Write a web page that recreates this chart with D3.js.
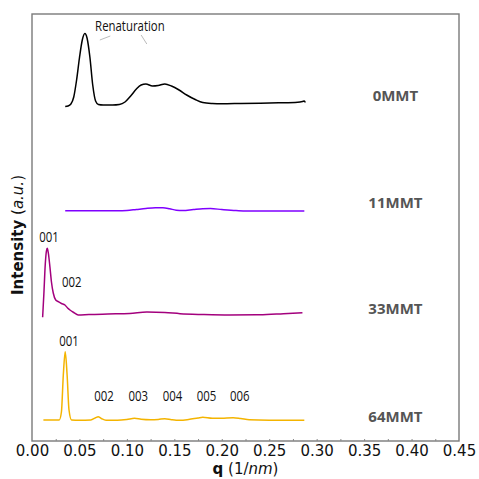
<!DOCTYPE html>
<html>
<head>
<meta charset="utf-8">
<script src="https://cdn.jsdelivr.net/npm/d3@7"></script>
<style>
  body { margin: 0; background: #fff; }
  .peak { font-family: "Open Sans", sans-serif; font-size: 15px; fill: #111; }
  .tick text { font-family: "DejaVu Sans", sans-serif; font-size: 15px; fill: #111; }
</style>
</head>
<body>
<div id="chart"></div>
<script>
var svgWidth = 479;
var svgHeight = 479;

var margin = { top: 14, right: 20, bottom: 38, left: 32 };
var width = 459 - margin.left;
var height = 441 - margin.top;

// series names, colours and vertical offsets (a.u.)
var seriesNames = ["0MMT", "11MMT", "33MMT", "64MMT"];
var seriesColors = ["#000000", "#7f00ff", "#a3007d", "#f4b400"];
var seriesOffsets = [338, 230, 127, 21];
var nameLevels = [345, 238, 132, 24];

// q values (1/nm) and intensities for each sample
var q0 = [0.035, 0.038, 0.041, 0.044, 0.047, 0.050, 0.053, 0.0557, 0.058, 0.061, 0.064, 0.067, 0.070, 0.075, 0.085, 0.092, 0.098, 0.104, 0.110, 0.115, 0.120, 0.127, 0.133, 0.140, 0.147, 0.155, 0.163, 0.172, 0.180, 0.190, 0.200, 0.220, 0.240, 0.260, 0.280, 0.285, 0.287, 0.288];
var i0 = [-3.5, -3, -1, 6, 23, 45, 63, 69.5, 65, 46, 18, 2, -1.5, -2, -2, -1.5, 1, 7, 14, 18, 19, 17, 17.5, 19, 17, 13, 8, 3.5, 0.5, -0.5, -0.8, -0.5, -0.2, 0.2, 0.8, 1.5, 2, 0.5];

var q11 = [0.035, 0.05, 0.07, 0.09, 0.100, 0.110, 0.120, 0.130, 0.138, 0.145, 0.152, 0.159, 0.170, 0.180, 0.188, 0.200, 0.215, 0.226, 0.250, 0.287];
var i11 = [0.3, 0.2, 0.3, 0.2, 0.5, 1.5, 2.5, 3.2, 3.3, 2.3, 0.8, 0.5, 1.5, 2.3, 2.4, 1.5, 0.5, 0, 0, 0];

var q33 = [0.0112, 0.0125, 0.0140, 0.0152, 0.0161, 0.0172, 0.0189, 0.0205, 0.0224, 0.0250, 0.0277, 0.0310, 0.0347, 0.0375, 0.0400, 0.0440, 0.0487, 0.060, 0.080, 0.103, 0.121, 0.140, 0.156, 0.180, 0.208, 0.240, 0.265, 0.285];
var i33 = [-3.3, 20, 50, 63, 65.7, 61, 47, 32, 21, 14, 12.3, 10.5, 9, 6, 4, 1.5, -1, -0.5, 0, 0.5, 2, 1.5, 0.3, -0.5, -1, -0.8, 0.3, 1.3];

var q64 = [0.012, 0.020, 0.0287, 0.031, 0.033, 0.035, 0.037, 0.039, 0.0417, 0.050, 0.062, 0.067, 0.0697, 0.073, 0.078, 0.090, 0.100, 0.108, 0.115, 0.125, 0.133, 0.140, 0.147, 0.152, 0.156, 0.165, 0.175, 0.180, 0.190, 0.200, 0.212, 0.220, 0.229, 0.250, 0.287];
var i64 = [0, 0, 0, 8, 45, 68.3, 45, 10, 0, -0.3, 0, 2.3, 3.3, 1.5, -0.3, -0.3, 0.5, 1.7, 0.8, 0.3, 0.6, 1.3, 0.3, -0.2, -0.3, 0.5, 2, 2.7, 1.7, 1.8, 2.3, 1.5, 0.3, -0.2, -0.3];

var seriesQ = [q0, q11, q33, q64];
var seriesI = [i0, i11, i33, i64];

// peak annotations: q, intensity (above the series' baseline), label
var peak33Q = [0.0180, 0.0420];
var peak33I = [72, 27];
var peak33Text = ["001", "002"];
var peak64Q = [0.039, 0.076, 0.112, 0.148, 0.184, 0.219];
var peak64I = [74, 19, 19, 19, 19, 19];
var peak64Text = ["001", "002", "003", "004", "005", "006"];

var xTicks = [0, 0.05, 0.1, 0.15, 0.2, 0.25, 0.3, 0.35, 0.4, 0.45];

var svg = d3.select("#chart")
  .append("svg")
  .attr("width", svgWidth)
  .attr("height", svgHeight);

var chartGroup = svg.append("g")
  .attr("transform", `translate(${margin.left}, ${margin.top})`);

var xScale = d3.scaleLinear().domain([0, 0.45]).range([0, width]);
var yScale = d3.scaleLinear().domain([0, 427]).range([height, 0]);

// frame
chartGroup.append("rect")
  .attr("x", 0).attr("y", 0)
  .attr("width", width).attr("height", height)
  .attr("fill", "none")
  .attr("stroke", "#7a7a7a")
  .attr("stroke-width", 1.4);

// x axis: labels every 0.05, small inward ticks every 0.025
var xAxis = chartGroup.append("g")
  .attr("transform", `translate(0, ${height})`)
  .call(d3.axisBottom(xScale).tickValues(xTicks).tickFormat(d3.format(".2f")).tickSize(0).tickPadding(4));
xAxis.select(".domain").remove();

chartGroup.append("g")
  .attr("transform", `translate(0, ${height})`)
  .call(d3.axisTop(xScale).tickValues(d3.range(0.025, 0.45, 0.025)).tickSize(2).tickFormat(""))
  .call(g => g.select(".domain").remove())
  .selectAll("line").attr("stroke", "#888");

// lines
var line = d3.line()
  .x(d => xScale(d[0]))
  .y(d => yScale(d[1]))
  .curve(d3.curveMonotoneX);

seriesNames.forEach(function(name, k) {
  var pts = seriesQ[k].map((q, j) => [q, seriesI[k][j] + seriesOffsets[k]]);
  chartGroup.append("path")
    .attr("d", line(pts))
    .attr("fill", "none")
    .attr("stroke", seriesColors[k])
    .attr("stroke-width", 1.5)
    .attr("stroke-linejoin", "round");

  chartGroup.append("text")
    .attr("x", xScale(0.383))
    .attr("y", yScale(nameLevels[k]) + 5)
    .attr("text-anchor", "middle")
    .attr("font-family", "'Open Sans', sans-serif")
    .attr("font-weight", "bold")
    .attr("font-size", "15px")
    .attr("fill", "#555")
    .text(name);
});

// narrow annotation text: Open Sans squeezed horizontally
function narrowText(x, y, anchor, txt) {
  chartGroup.append("text")
    .attr("class", "peak")
    .attr("transform", `translate(${x}, ${y}) scale(0.76, 1)`)
    .attr("text-anchor", anchor)
    .text(txt);
}

function addPeaks(qs, is, texts, offset) {
  qs.forEach(function(q, j) {
    narrowText(xScale(q), yScale(is[j] + offset), "middle", texts[j]);
  });
}
addPeaks(peak33Q, peak33I, peak33Text, seriesOffsets[2]);
addPeaks(peak64Q, peak64I, peak64Text, seriesOffsets[3]);

// Renaturation annotation
narrowText(xScale(0.0665), yScale(seriesOffsets[0] + 72), "start", "Renaturation");

chartGroup.append("line")
  .attr("x1", xScale(0.0715)).attr("y1", yScale(seriesOffsets[0] + 63))
  .attr("x2", xScale(0.0825)).attr("y2", yScale(seriesOffsets[0] + 67))
  .attr("stroke", "#bbb").attr("stroke-width", 1);
chartGroup.append("line")
  .attr("x1", xScale(0.115)).attr("y1", yScale(seriesOffsets[0] + 68))
  .attr("x2", xScale(0.121)).attr("y2", yScale(seriesOffsets[0] + 59))
  .attr("stroke", "#bbb").attr("stroke-width", 1);

// x label
var xLabel = svg.append("text")
  .attr("x", margin.left + width / 2)
  .attr("y", 474)
  .attr("text-anchor", "middle")
  .attr("font-family", "'DejaVu Sans', sans-serif")
  .attr("font-size", "15px")
  .attr("fill", "#111");
xLabel.append("tspan").attr("font-weight", "bold").text("q");
xLabel.append("tspan").text(" (1/");
xLabel.append("tspan").attr("font-style", "italic").text("nm");
xLabel.append("tspan").text(")");

// y label
var yLabel = svg.append("text")
  .attr("transform", "translate(23, 235) rotate(-90)")
  .attr("text-anchor", "middle")
  .attr("font-family", "'DejaVu Sans', sans-serif")
  .attr("font-size", "15px")
  .attr("fill", "#111");
yLabel.append("tspan").attr("font-weight", "bold").text("Intensity");
yLabel.append("tspan").text(" (");
yLabel.append("tspan").attr("font-style", "italic").text("a.u.");
yLabel.append("tspan").text(")");
</script>
</body>
</html>
